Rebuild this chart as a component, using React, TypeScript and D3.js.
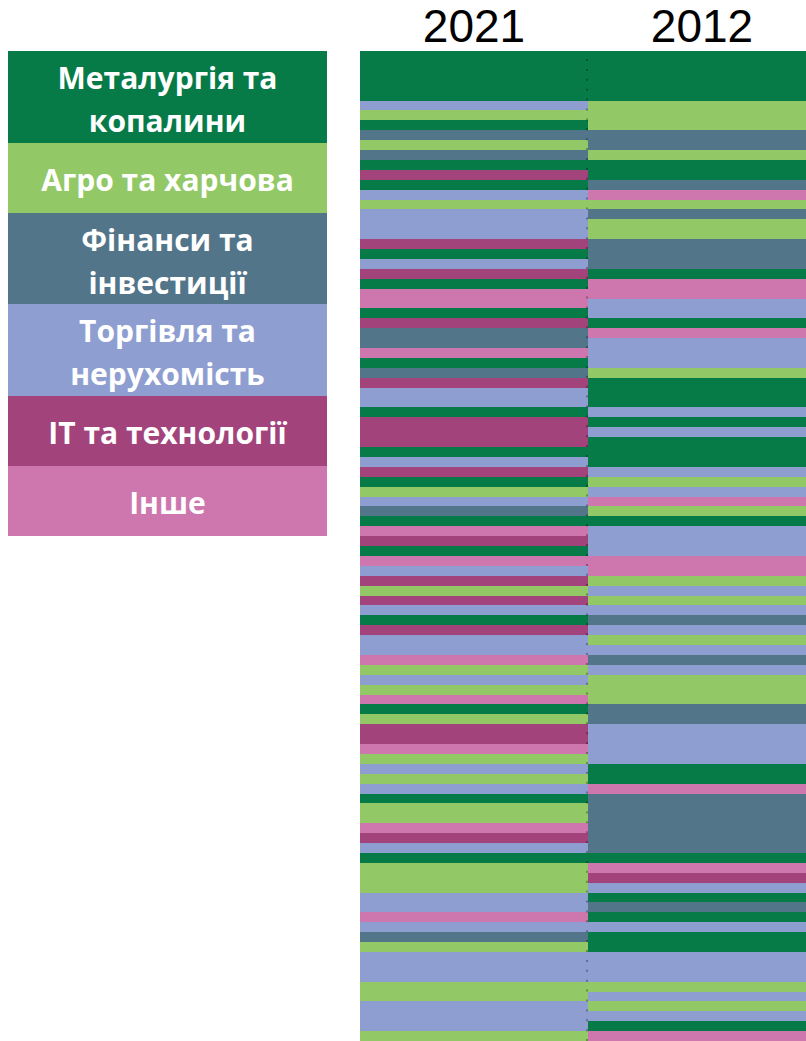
import React from "react";
import * as d3 from "d3";

// Category keys
const categories = ["M", "A", "F", "T", "I", "O"];
const categoryLabels = [
  ["Металургія та", "копалини"],
  ["Агро та харчова"],
  ["Фінанси та", "інвестиції"],
  ["Торгівля та", "нерухомість"],
  ["ІТ та технології"],
  ["Інше"],
];
const categoryColors = ["#067B48", "#92C966", "#52758A", "#8E9ED0", "#A2437C", "#CD77AE"];

const years = ["2021", "2012"];

// Sector of each rank position (1..100), top to bottom
const sectors2021 = [
  "M","M","M","M","M","T","A","M","F","A",
  "F","M","I","M","T","A","T","T","T","I",
  "M","T","I","M","O","O","M","I","F","F",
  "O","M","F","I","T","T","M","I","I","I",
  "M","T","I","M","A","T","F","M","O","I",
  "M","O","T","I","A","I","T","M","I","T",
  "T","O","A","T","A","O","M","A","I","I",
  "O","A","T","A","T","M","A","A","O","I",
  "T","M","A","A","A","T","T","O","T","F",
  "A","T","T","T","A","A","T","T","T","A",
];

const sectors2012 = [
  "M","M","M","M","M","A","A","A","F","F",
  "A","M","M","F","O","A","F","A","A","F",
  "F","F","M","O","O","T","T","M","O","T",
  "T","T","A","M","M","M","T","M","T","M",
  "M","M","T","A","T","O","A","M","T","T",
  "T","O","O","A","T","A","T","F","T","A",
  "T","F","T","A","A","A","F","F","T","T",
  "T","T","M","M","O","F","F","F","F","F",
  "F","M","O","I","T","M","F","M","T","M",
  "M","T","T","T","A","T","A","T","M","O",
];

const W = 806;
const H = 1041;

export default function App() {
  const color = d3.scaleOrdinal<string, string>().domain(categories).range(categoryColors);
  const x = d3.scaleBand<string>().domain(years).range([360, 816]).padding(0);
  const ranks = d3.range(sectors2021.length).map(String);
  const y = d3.scaleBand<string>().domain(ranks).range([51, 1041]).padding(0);
  const legendY = d3
    .scaleOrdinal<string, number>()
    .domain(categories)
    .range([51, 143, 213, 304, 396, 466]);
  const legendH = [92, 70, 91, 92, 70, 70];
  const columns = [sectors2021, sectors2012];

  return (
    <svg
      width={W}
      height={H}
      style={{ position: "absolute", left: 0, top: 0, overflow: "hidden" }}
    >
      <rect x={0} y={0} width={W} height={H} fill="#fff" />
      {/* Header */}
      {years.map((yr) => (
        <text
          key={yr}
          x={x(yr)! + x.bandwidth() / 2}
          y={42}
          textAnchor="middle"
          fontFamily="'Liberation Sans', Arial, sans-serif"
          fontSize={46}
          fill="#000"
        >
          {yr}
        </text>
      ))}
      {/* Stripes */}
      {columns.map((col, ci) => (
        <g key={years[ci]} shapeRendering="crispEdges">
          {col.map((s, i) => (
            <rect
              key={i}
              x={x(years[ci])!}
              y={y(String(i))!}
              width={x.bandwidth()}
              height={y.bandwidth() + 0.5}
              fill={color(s)}
            />
          ))}
        </g>
      ))}
      {/* dotted separator */}
      <line
        x1={x(years[1])! - 1}
        x2={x(years[1])! - 1}
        y1={59}
        y2={1041}
        stroke="rgba(0,0,0,0.3)"
        strokeWidth={2}
        strokeDasharray="2 7.9"
      />
      {/* Legend */}
      {categories.map((c, i) => {
        const top = legendY(c);
        const lines = categoryLabels[i];
        const baselines = lines.length === 2 ? [top + 37.5, top + 80.5] : [top + 48];
        return (
          <g key={c}>
            <rect x={8} y={top} width={319} height={legendH[i]} fill={color(c)} shapeRendering="crispEdges" />
            {lines.map((ln, li) => (
              <text
                key={li}
                x={167.5}
                y={baselines[li]}
                textAnchor="middle"
                fontFamily="'Open Sans', 'Noto Sans', sans-serif"
                fontWeight="bold"
                fontSize={30}
                fill="#fff"
              >
                {ln}
              </text>
            ))}
          </g>
        );
      })}
    </svg>
  );
}
